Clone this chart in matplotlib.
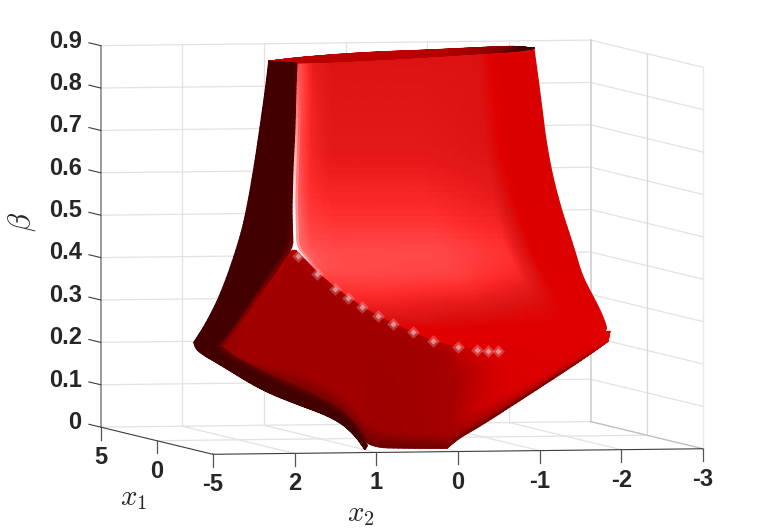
#!/usr/bin/env python3
# -*- coding: utf-8 -*-

import numpy as np
import matplotlib
matplotlib.use("Agg")
import matplotlib.pyplot as plt
from matplotlib.colors import LinearSegmentedColormap
from mpl_toolkits.mplot3d import proj3d

##############################
## Data ######################
##############################

x1_ticks = [-5, 0, 5]
x2_ticks = [3, 2, 1, 0, -1, -2, -3]
beta_ticks = [0, 0.1, 0.2, 0.3, 0.4, 0.5, 0.6, 0.7, 0.8, 0.9]
x1_ticklabels = ["-5", "0", "5"]
x2_ticklabels = ["", "2", "1", "0", "-1", "-2", "-3"]
beta_ticklabels = ["0", "0.1", "0.2", "0.3", "0.4", "0.5", "0.6", "0.7", "0.8", "0.9"]

# each face of the surface is read as two edge curves (x1, x2, beta) plus a
# table of shade values: one row per edge point, one column per position across

# dark left side of the upper part
dark_edge_a_x1 = [-1.2] * 9
dark_edge_a_x2 = [1.793, 1.829, 1.903, 1.976, 2.062, 2.148, 2.356, 2.552, 2.711]
dark_edge_a_beta = [0.900, 0.841, 0.740, 0.646, 0.552, 0.481, 0.363, 0.286, 0.239]
dark_edge_b_x1 = [-2.0] * 9
dark_edge_b_x2 = [1.56, 1.572, 1.585, 1.609, 1.621, 1.609, 1.989, 2.221, 2.478]
dark_edge_b_beta = [0.900, 0.846, 0.744, 0.650, 0.556, 0.466, 0.361, 0.298, 0.232]
dark_cols = [0, 0.85, 1]
dark_shade = [[0.2, 0.2, 0.22], [0.2, 0.2, 0.22], [0.2, 0.2, 0.22],
              [0.2, 0.2, 0.22], [0.2, 0.2, 0.22], [0.2, 0.2, 0.3],
              [0.2, 0.2, 0.36], [0.2, 0.2, 0.36], [0.2, 0.2, 0.34]]

# big bright face
bright_edge_a_x1 = [-2.0] * 12
bright_edge_a_x2 = [1.56, 1.572, 1.597, 1.621, 1.609, 1.315, 1.07, 0.764, 0.385, 0.189, -0.105, -0.595]
bright_edge_a_beta = [0.900, 0.815, 0.697, 0.579, 0.466, 0.4065, 0.366, 0.3227, 0.2818, 0.2649, 0.2406, 0.216]
bright_edge_b_x1 = [2.4] * 12
bright_edge_b_x2 = [-1.946, -2.031, -2.105, -2.239, -2.435, -2.521, -2.619, -2.741, -2.827, -2.84, -2.631, -2.264]
bright_edge_b_beta = [0.8996, 0.779, 0.661, 0.543, 0.429, 0.370, 0.330, 0.287, 0.2468, 0.230, 0.207, 0.184]
bright_cols = [0, 0.015, 0.06, 0.14, 0.5, 0.75, 0.85, 1]
bright_shade = [[0.80, 0.80, 0.70, 0.655, 0.655, 0.65, 0.56, 0.56],
                [0.84, 0.80, 0.72, 0.665, 0.665, 0.65, 0.56, 0.56],
                [0.92, 0.81, 0.73, 0.68, 0.68, 0.655, 0.56, 0.56],
                [0.98, 0.83, 0.76, 0.74, 0.74, 0.70, 0.57, 0.57],
                [1.00, 0.84, 0.81, 0.80, 0.80, 0.76, 0.58, 0.58],
                [0.80, 0.80, 0.80, 0.80, 0.79, 0.74, 0.60, 0.58],
                [0.76, 0.76, 0.76, 0.76, 0.74, 0.68, 0.60, 0.58],
                [0.68, 0.70, 0.70, 0.70, 0.66, 0.62, 0.60, 0.58],
                [0.60, 0.62, 0.62, 0.62, 0.60, 0.60, 0.60, 0.60],
                [0.60, 0.60, 0.60, 0.60, 0.60, 0.60, 0.60, 0.60],
                [0.60, 0.60, 0.60, 0.60, 0.60, 0.60, 0.60, 0.60],
                [0.60, 0.60, 0.60, 0.60, 0.60, 0.60, 0.60, 0.60]]

# lower front face
front_edge_a_x1 = [-2.0] * 10
front_edge_a_x2 = [2.478, 2.221, 1.989, 1.609, 1.315, 1.07, 0.764, 0.385, -0.105, -0.411]
front_edge_a_beta = [0.2321, 0.2976, 0.3608, 0.466, 0.4065, 0.366, 0.3227, 0.2818, 0.2406, 0.2258]
front_edge_b_x1 = [-4.5] * 10
front_edge_b_x2 = [2.785, 2.601, 2.258, 1.866, 1.56, 1.315, 1.156, 1.046, 0.58, 0.066]
front_edge_b_beta = [0.2393, 0.2082, 0.1768, 0.1406, 0.1187, 0.0875, 0.0518, 0.0091, 0.0057, 0.0046]
front_cols = [0, 0.1, 0.85, 1]
front_shade = [[0.40, 0.38, 0.38, 0.30], [0.41, 0.40, 0.40, 0.30],
               [0.42, 0.40, 0.40, 0.30], [0.45, 0.40, 0.40, 0.30],
               [0.42, 0.40, 0.40, 0.30], [0.42, 0.40, 0.40, 0.30],
               [0.42, 0.40, 0.40, 0.30], [0.42, 0.40, 0.39, 0.28],
               [0.44, 0.41, 0.40, 0.28], [0.50, 0.43, 0.42, 0.30]]

# dark fringe along the lower left
fringe_x1 = [-2.0, -2.0, -3.0, -3.5, -4.0, -4.5, -4.5, -4.5]
fringe_edge_a_x2 = [2.821, 2.785, 2.64, 2.219, 1.834, 1.462, 1.217, 1.07]
fringe_edge_a_beta = [0.2447, 0.2233, 0.1987, 0.1418, 0.109, 0.0807, 0.0448, 0.0044]
fringe_edge_b_x2 = [2.478, 2.442, 2.42, 1.974, 1.553, 1.291, 1.07, 1.046]
fringe_edge_b_beta = [0.2321, 0.2276, 0.209, 0.1638, 0.1262, 0.0887, 0.034, 0.0127]
fringe_cols = [0, 0.6, 1]
fringe_shade = [[0.2, 0.2, 0.28]] * 8

# lower right face
right_edge_a_x1 = [-2.0] * 7
right_edge_a_x2 = [-0.411, -0.889, -1.293, -1.783, -2.089, -2.211, -2.273]
right_edge_a_beta = [0.2258, 0.2153, 0.2357, 0.2464, 0.2528, 0.2573, 0.2595]
right_edge_b_x1 = [-4.5] * 7
right_edge_b_x2 = [0.066, -0.093, -0.338, -0.791, -1.281, -1.685, -1.905]
right_edge_b_beta = [0.0046, 0.0302, 0.0556, 0.1112, 0.1715, 0.2225, 0.2526]
right_cols = [0, 0.3, 0.7, 0.9, 1]
right_shade = [[0.50, 0.42, 0.42, 0.40, 0.30],
               [0.56, 0.52, 0.50, 0.42, 0.30],
               [0.60, 0.58, 0.54, 0.42, 0.28],
               [0.60, 0.60, 0.56, 0.44, 0.28],
               [0.60, 0.60, 0.56, 0.42, 0.30],
               [0.60, 0.60, 0.58, 0.50, 0.40],
               [0.60, 0.60, 0.60, 0.58, 0.55]]

# top rim
rim_edge_a_x1 = [-1.19, 0.10, 1.61, 2.07, 3.17, 2.94, 2.36]
rim_edge_a_x2 = [1.79, 1.235, 0.21, -0.59, -1.72, -1.85, -1.94]
rim_edge_a_beta = [0.9] * 7
rim_edge_b_x1 = [-1.19, -2.01, -1.21, -0.38, 1.09, 1.36, 2.36]
rim_edge_b_x2 = [1.79, 1.56, 0.655, -0.19, -1.29, -1.59, -1.94]
rim_edge_b_beta = [0.9] * 7
rim_cols = [0, 1]
rim_shade = [[0.47, 0.47], [0.47, 0.47], [0.47, 0.47], [0.47, 0.47],
             [0.36, 0.36], [0.2, 0.2], [0.2, 0.2]]

# white spots along the crease
spot_x1 = [-2.0] * 13
spot_x2 = [1.548, 1.315, 1.095, 0.936, 0.764, 0.568, 0.385, 0.14, -0.105, -0.411, -0.644, -0.779, -0.901]
spot_beta = [0.4447, 0.4018, 0.3659, 0.3443, 0.3227, 0.3011, 0.2818, 0.2624, 0.2406, 0.2258, 0.2183, 0.2156, 0.2153]

##############################
## Functions #################
##############################

red_map = LinearSegmentedColormap.from_list("surface_red", [
    (0.0, "#300000"), (0.2, "#420000"), (0.4, "#a00000"), (0.55, "#d80000"),
    (0.6, "#e00000"), (0.65, "#dc1212"), (0.7, "#e81c1c"), (0.75, "#ff2c2c"),
    (0.8, "#ff4848"), (0.9, "#ffa0a0"), (1.0, "#ffffff")])


def fine(values, n, soft=0.6):
    # only for smooth drawing between the points
    values = np.asarray(values, dtype=float)
    out = np.interp(np.linspace(0, len(values) - 1, n), np.arange(len(values)), values)
    w = max(1, int(soft * n / len(values)))
    pad = np.pad(out, w, mode='reflect', reflect_type='odd')
    return np.convolve(pad, np.ones(2 * w + 1) / (2 * w + 1), mode='same')[w:-w]


def face(ax, a, b, cols, shade, order, nr=70, nc=45, soft_a=0.6, soft_b=0.6):
    '''
    Draws one face between edge a and edge b, each given as (x1, x2, beta).
    '''
    t = np.linspace(0, 1, nc)
    ea = [fine(v, nr, soft_a) for v in a]
    eb = [fine(v, nr, soft_b) for v in b]
    X, Y, Z = [np.outer(p, 1 - t) + np.outer(q, t) for p, q in zip(ea, eb)]
    shade = np.asarray(shade, dtype=float)
    by_col = np.array([fine(shade[:, j], nr, 0.3) for j in range(shade.shape[1])]).T
    S = np.array([np.interp(t, cols, row) for row in by_col])
    ax.plot_surface(X, Y, Z, facecolors=red_map(S), rstride=1, cstride=1,
                    shade=False, linewidth=0.9, antialiased=True, zorder=order)


def label(ax, x, y, z, s, **kw):
    # 3D position through the projection, then plain 2D text
    px, py, _ = proj3d.proj_transform(x, y, z, ax.get_proj())
    ax.text2D(px, py, s, transform=ax.transData, fontsize=17, fontweight='bold',
              color=txt_c, **kw)


##############################
## Plotting ##################
##############################

plt.rcParams['font.family'] = ['Liberation Sans', 'DejaVu Sans']
plt.rcParams['mathtext.fontset'] = 'cm'

fig = plt.figure(figsize=(7.77, 5.32), dpi=100)
W, H = 777.0, 532.0
ax = fig.add_axes([-9 / W, -126 / H, 800 / W, 800 / H], projection='3d',
                  computed_zorder=False, proj_type='ortho')
ax.view_init(elev=3.0, azim=167.8)
ax.set_box_aspect((530.8, 501.3, 382.0))
ax.set_axis_off()
ax.set_xlim(-5, 5, view_margin=0)
ax.set_ylim(-3, 3, view_margin=0)
ax.set_zlim(0, 0.9, view_margin=0)

grid = '#e2e2e2'
axis_c = '#3c3c3c'
txt_c = '#262626'

## 1. Walls and floor
for b in beta_ticks:
    ax.plot([5, 5], [3, -3], [b, b], color=grid, lw=0.9, zorder=1)
    ax.plot([5, -5], [-3, -3], [b, b], color=grid, lw=0.9, zorder=1)
for v in x2_ticks[1:-1]:
    ax.plot([5, 5], [v, v], [0, 0.9], color=grid, lw=0.9, zorder=1)
    ax.plot([-5, 5], [v, v], [0, 0], color=grid, lw=0.9, zorder=1)
ax.plot([0, 0], [-3, -3], [0, 0.9], color='#d8d8d8', lw=0.9, zorder=1)
ax.plot([0, 0], [3, -3], [0, 0], color=grid, lw=0.9, zorder=1)
ax.plot([5, 5], [-3, -3], [0, 0.9], color='#d0d0d0', lw=1.2, zorder=1)
ax.plot([-5, -5], [-3, -3], [0, 0.9], color='#e8e8e8', lw=1.0, zorder=1)
ax.plot([5, -5], [-3, -3], [0, 0], color='#c0c0c0', lw=0.9, zorder=1)

## 2. Axis lines, ticks, labels
ax.plot([5, 5], [3, 3], [0, 0.9], color='#8a8a8a', lw=1.2, zorder=2)
ax.plot([5, -5], [3, 3], [0, 0], color=axis_c, lw=0.8, zorder=2)
ax.plot([-5, -5], [3, -3], [0, 0], color=axis_c, lw=0.8, zorder=2)

for b, lab in zip(beta_ticks, beta_ticklabels):
    ax.plot([5, 6.05], [3, 3], [b, b], color=axis_c, lw=0.8, zorder=2)
    label(ax, 6.7, 3, b, lab, ha='right', va='center')
for v, lab in zip(x1_ticks, x1_ticklabels):
    ax.plot([v, v], [3, 3], [0, -0.03], color='#555555', lw=0.9, zorder=2)
    label(ax, v, 3, -0.072, lab, ha='center', va='center')
for v, lab in zip(x2_ticks[1:], x2_ticklabels[1:]):
    ax.plot([-5, -5], [v, v], [0, -0.03], color='#555555', lw=0.9, zorder=2)
    label(ax, -5, v, -0.072, lab, ha='center', va='center')

fig.text(134 / W, 1 - 498 / H, r'$x_1$', fontsize=21, ha='center', va='center', color=txt_c)
fig.text(361 / W, 1 - 514 / H, r'$x_2$', fontsize=21, ha='center', va='center', color=txt_c)
fig.text(22 / W, 1 - 222 / H, r'$\beta$', fontsize=22, ha='center', va='center',
         rotation=90, color=txt_c)

## 3. Surface, painted back to front
face(ax, (bright_edge_a_x1, bright_edge_a_x2, bright_edge_a_beta),
     (bright_edge_b_x1, bright_edge_b_x2, bright_edge_b_beta), bright_cols, bright_shade, 10,
     nr=90, nc=100, soft_a=0.15)
face(ax, (rim_edge_a_x1, rim_edge_a_x2, rim_edge_a_beta),
     (rim_edge_b_x1, rim_edge_b_x2, rim_edge_b_beta), rim_cols, rim_shade, 11)
face(ax, (front_edge_a_x1, front_edge_a_x2, front_edge_a_beta),
     (front_edge_b_x1, front_edge_b_x2, front_edge_b_beta), front_cols, front_shade, 12,
     soft_a=0.15)
face(ax, (right_edge_a_x1, right_edge_a_x2, right_edge_a_beta),
     (right_edge_b_x1, right_edge_b_x2, right_edge_b_beta), right_cols, right_shade, 13)
face(ax, (dark_edge_a_x1, dark_edge_a_x2, dark_edge_a_beta),
     (dark_edge_b_x1, dark_edge_b_x2, dark_edge_b_beta), dark_cols, dark_shade, 14,
     soft_b=0.15)
face(ax, (fringe_x1, fringe_edge_a_x2, fringe_edge_a_beta),
     (fringe_x1, fringe_edge_b_x2, fringe_edge_b_beta), fringe_cols, fringe_shade, 15)
ax.scatter(spot_x1, spot_x2, spot_beta, s=42, marker='D', color='#f2c4c4', alpha=0.3,
           linewidths=0, depthshade=False, zorder=16)
ax.scatter(spot_x1, spot_x2, spot_beta, s=10, marker='D', color='#f6d6d6', alpha=0.55,
           linewidths=0, depthshade=False, zorder=17)

ax.set_xlim(-5, 5, view_margin=0)
ax.set_ylim(-3, 3, view_margin=0)
ax.set_zlim(0, 0.9, view_margin=0)

fig.savefig('out.png', dpi=100)
